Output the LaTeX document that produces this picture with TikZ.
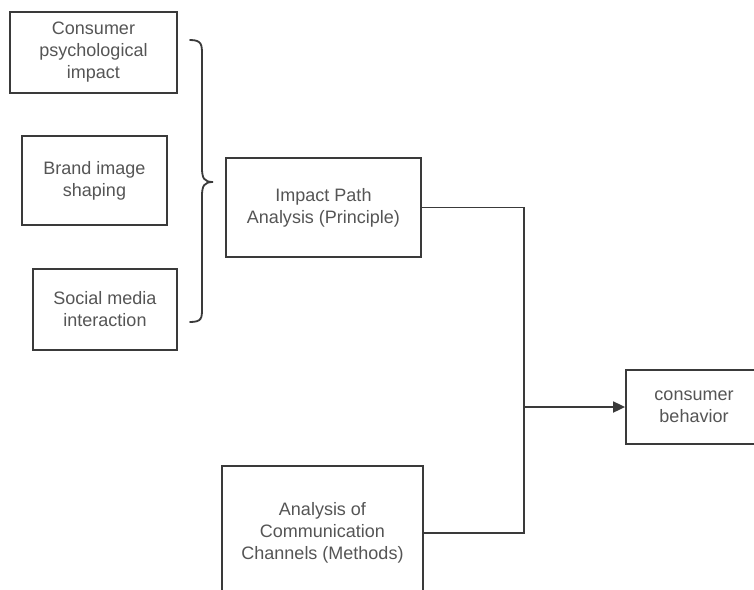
\documentclass[tikz,border=0pt]{standalone}
\usepackage{fontspec}
\setmainfont{Liberation Sans}
\usetikzlibrary{arrows.meta}
\definecolor{ln}{HTML}{3A3A3A}
\definecolor{tx}{HTML}{555555}
\tikzset{
  box/.style={draw=ln, line width=1.8pt, fill=white, inner sep=0pt, align=center,
    text=tx, font=\fontsize{18}{22}\selectfont},
  conn/.style={draw=ln, line width=1.8pt},
}
\begin{document}
\begin{tikzpicture}[x=1pt,y=-1pt]
\clip (0,0) rectangle (754,589);
\fill[white] (0,0) rectangle (754,589);
\node[box, minimum width=167pt, minimum height=81pt] (b1) at (93.5,52.5) {Consumer\\psychological\\impact};
\node[box, minimum width=145pt, minimum height=89pt] (b2) at (94.5,180.5) {Brand image\\shaping};
\node[box, minimum width=144pt, minimum height=81pt] (b3) at (105,309.5) {Social media\\interaction};
\node[box, minimum width=195pt, minimum height=99pt] (impact) at (323.5,207.5) {Impact Path\\Analysis (Principle)};
\node[box, minimum width=201pt, minimum height=134pt] (comm) at (322.5,533) {Analysis of\\Communication\\Channels (Methods)};
\node[box, minimum width=136pt, minimum height=74pt] (cons) at (694,407) {consumer\\behavior};
\coordinate (j) at (524,407);
\draw[conn, line cap=round] (190,40) .. controls (202,40) and (202,45) .. (202,55) -- (202,168)
  .. controls (202,178) and (204,182) .. (213,182)
  .. controls (204,182) and (202,186) .. (202,196) -- (202,308)
  .. controls (202,318) and (202,322) .. (190,322);
\draw[conn] (impact.east) -| (j);
\draw[conn] (comm.east) -| (j);
\draw[conn, -{Triangle[length=12pt,width=11pt]}] (j) -- (cons.west);
\end{tikzpicture}
\end{document}
